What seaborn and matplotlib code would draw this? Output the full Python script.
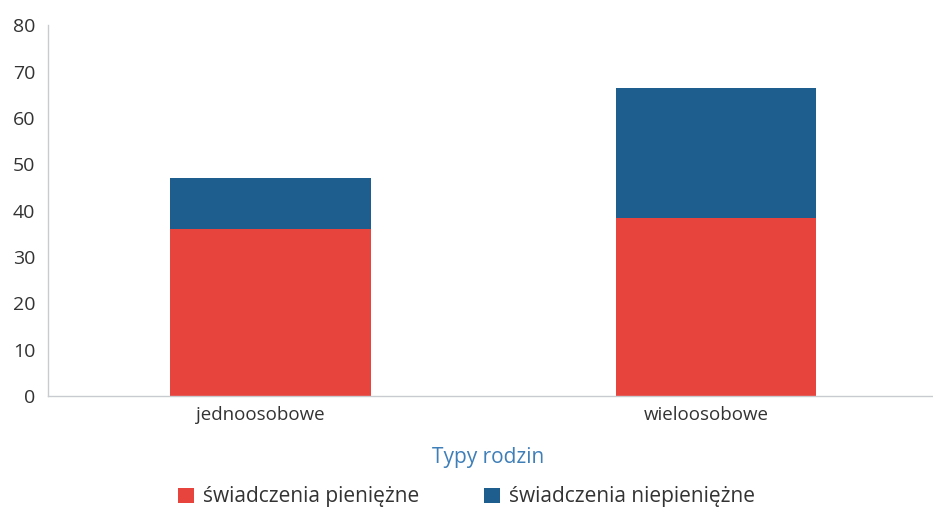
import matplotlib
matplotlib.use("Agg")
import matplotlib.pyplot as plt
import matplotlib.transforms as mtransforms
import seaborn as sns
import pandas as pd
from matplotlib.patches import Patch

categories = ["jednoosobowe", "wieloosobowe"]
pieniezne = [36.0, 38.5]
niepieniezne = [11.0, 28.0]
series_names = ["świadczenia pieniężne", "świadczenia niepieniężne"]
yticks = [0, 10, 20, 30, 40, 50, 60, 70, 80]

RED = "#e8443e"
BLUE = "#1e5e8e"
TXT = "#333333"

sns.set_theme(style="white")
plt.rcParams["font.family"] = ["Open Sans", "DejaVu Sans"]

df = pd.DataFrame({"cat": categories,
                   "red": pieniezne,
                   "total": [a + b for a, b in zip(pieniezne, niepieniezne)]})

fig = plt.figure(figsize=(9.33, 5.15), dpi=100)
ax = fig.add_axes([0.0514, 0.231, 0.955, 0.72])

sns.barplot(data=df, x="cat", y="total", color=BLUE, width=0.45, ax=ax,
            saturation=1, linewidth=0)
sns.barplot(data=df, x="cat", y="red", color=RED, width=0.45, ax=ax,
            saturation=1, linewidth=0)

ax.set_ylim(0, 80)
ax.set_xlim(-0.5, 1.5)
ax.set_yticks(yticks)
ax.tick_params(axis="y", labelsize=14, colors=TXT, length=0, pad=9)
ax.tick_params(axis="x", labelsize=13.5, colors=TXT, length=0, pad=7)
offset = mtransforms.ScaledTranslation(-10 / 100, 0, fig.dpi_scale_trans)
for lab in ax.get_xticklabels():
    lab.set_transform(lab.get_transform() + offset)
ax.set_xlabel("")
ax.set_ylabel("")
for s in ["top", "right"]:
    ax.spines[s].set_visible(False)
for s in ["left", "bottom"]:
    ax.spines[s].set_color("#c8ccd0")
    ax.spines[s].set_linewidth(1.0)

fig.text(0.523, 0.112, "Typy rodzin", ha="center", va="center",
         fontsize=15, color="#3f7fb8")

handles = [Patch(facecolor=RED, edgecolor="none"),
           Patch(facecolor=BLUE, edgecolor="none")]
fig.legend(handles, series_names, loc="center", bbox_to_anchor=(0.5, 0.035),
           ncol=2, frameon=False, fontsize=15, handlelength=0.75, handleheight=0.75,
           handletextpad=0.45, columnspacing=3.1, labelcolor=TXT)

fig.savefig("out.png", dpi=100)
